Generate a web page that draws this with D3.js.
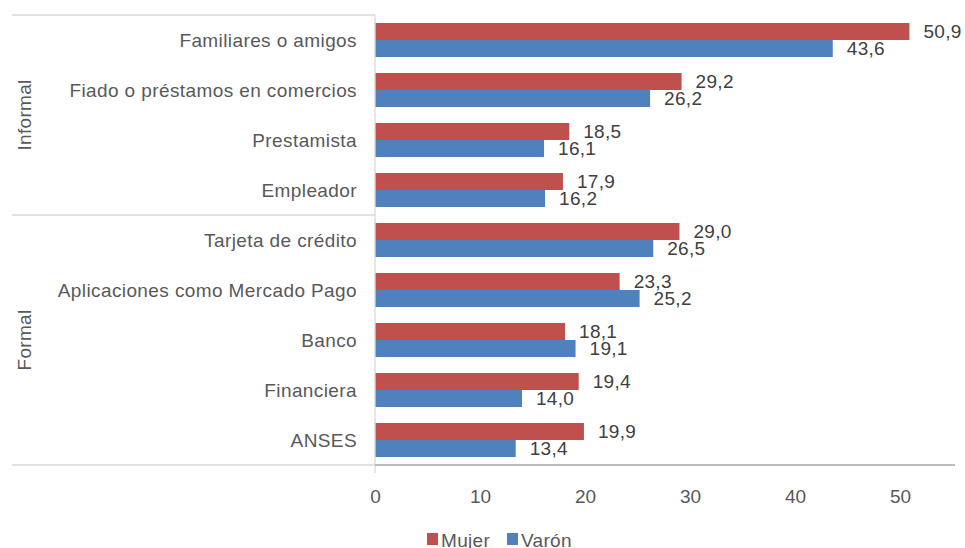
<!DOCTYPE html>
<html><head><meta charset="utf-8">
<script src="https://cdn.jsdelivr.net/npm/d3@7"></script>
<style>body{margin:0;background:#fff}svg{display:block}</style>
</head><body>
<svg id="chart" width="965" height="548"></svg>
<script>
const categories = ["Familiares o amigos","Fiado o préstamos en comercios","Prestamista","Empleador","Tarjeta de crédito","Aplicaciones como Mercado Pago","Banco","Financiera","ANSES"];
const groups = [{name:"Informal", first:0, last:3},{name:"Formal", first:4, last:8}];
const seriesNames = ["Mujer","Varón"];
const mujer = [50.9,29.2,18.5,17.9,29.0,23.3,18.1,19.4,19.9];
const varon = [43.6,26.2,16.1,16.2,26.5,25.2,19.1,14.0,13.4];
const tickValues = [0,10,20,30,40,50];
const colors = ["#C0504D","#4F81BD"];

const svg = d3.select("#chart");
const font = "'Liberation Sans', Arial, sans-serif";
const x0 = 375, x1 = 955, yTop = 15, yBot = 465, leftX = 12;
const x = d3.scaleLinear().domain([0,55.24]).range([x0,x1]);
const y = d3.scaleBand().domain(categories).range([yTop,yBot]).paddingInner(0.32).paddingOuter(0.16);
const yi = d3.scaleBand().domain(seriesNames).range([0,y.bandwidth()]);
const color = d3.scaleOrdinal().domain(seriesNames).range(colors);
const fmt = v => d3.format(".1f")(v).replace(".", ",");

const data = categories.map((c,i)=>({cat:c, vals:[{s:"Mujer",v:mujer[i]},{s:"Varón",v:varon[i]}]}));

// separators on left
const sepYs = [yTop, y(categories[groups[1].first]) - y.step()*y.paddingInner()/2 , yBot];
svg.selectAll("line.sep").data(sepYs).join("line")
  .attr("x1",leftX).attr("x2",x0).attr("y1",d=>d).attr("y2",d=>d)
  .attr("stroke","#d9d9d9").attr("stroke-width",1.3);

// bars
const g = svg.selectAll("g.cat").data(data).join("g").attr("transform",d=>`translate(0,${y(d.cat)})`);
g.selectAll("rect").data(d=>d.vals).join("rect")
  .attr("x",x(0)).attr("y",d=>yi(d.s)).attr("width",d=>x(d.v)-x(0)).attr("height",yi.bandwidth())
  .attr("fill",d=>color(d.s));
g.selectAll("text").data(d=>d.vals).join("text")
  .attr("x",d=>x(d.v)+14).attr("y",d=>yi(d.s)+yi.bandwidth()/2).attr("dy","0.36em")
  .attr("font-family",font).attr("font-size",19).attr("letter-spacing","0.3px").attr("fill","#404040")
  .text(d=>fmt(d.v));

// category labels
svg.selectAll("text.cat").data(categories).join("text").attr("class","cat")
  .attr("x",357).attr("y",d=>y(d)+y.bandwidth()/2).attr("dy","0.36em")
  .attr("text-anchor","end").attr("font-family",font).attr("font-size",19).attr("letter-spacing","0.4px")
  .attr("fill","#595959").text(d=>d);

// group labels
svg.selectAll("text.grp").data(groups).join("text").attr("class","grp")
  .attr("transform",d=>{const cy=(d.first===0? yTop : sepYs[1]) + ((d.first===0? sepYs[1]: yBot) - (d.first===0? yTop : sepYs[1]))/2; return `translate(31,${cy}) rotate(-90)`;})
  .attr("text-anchor","middle").attr("font-family",font).attr("font-size",19).attr("letter-spacing","0.3px")
  .attr("fill","#595959").text(d=>d.name);

// axes lines
svg.append("line").attr("x1",x0).attr("x2",x0).attr("y1",yTop).attr("y2",yBot+8).attr("stroke","#d9d9d9").attr("stroke-width",1.3);
svg.append("line").attr("x1",x0).attr("x2",x1).attr("y1",yBot).attr("y2",yBot).attr("stroke","#a6a6a6").attr("stroke-width",1.3);

// x axis via d3
const ax = svg.append("g").attr("transform",`translate(0,${yBot})`)
  .call(d3.axisBottom(x).tickValues(tickValues).tickSize(0).tickPadding(25).tickFormat(d=>d));
ax.select(".domain").remove();
ax.selectAll("text").attr("font-family",font).attr("font-size",19).attr("fill","#595959");

// legend
const lg = svg.append("g");
const legX = [427, 507];
seriesNames.forEach((s,i)=>{
  lg.append("rect").attr("x",legX[i]).attr("y",533).attr("width",11).attr("height",12).attr("fill",color(s));
  lg.append("text").attr("x",legX[i]+14).attr("y",547).attr("font-family",font).attr("font-size",19)
    .attr("letter-spacing","0.3px").attr("fill","#595959").text(s);
});
</script>
</body></html>
